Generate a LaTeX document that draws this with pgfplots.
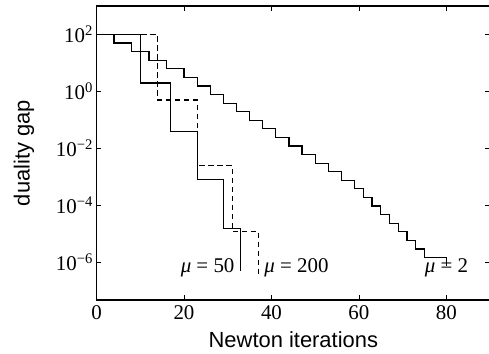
\documentclass[border=0pt]{standalone}
\usepackage{fontspec}
\setmainfont{Liberation Serif}
\setsansfont{Liberation Sans}
\usepackage{pgfplots}
\pgfplotsset{compat=1.18}
\begin{document}
\begin{tikzpicture}
\path[use as bounding box] (-96.5bp,-54bp) rectangle (392.5bp,300bp);
\begin{axis}[
  at={(0,0)}, anchor=south west,
  scale only axis, width=393.7bp, height=294bp,
  ymode=log, xmin=0, xmax=90, ymin=4.8e-8, ymax=1000,
  xtick={0,20,40,60,80},
  ytick={1e-6,1e-4,1e-2,1,1e2},
  yticklabels={10\textsuperscript{−6},10\textsuperscript{−4},10\textsuperscript{−2},10\textsuperscript{0},10\textsuperscript{2}},
  yminorticks=false,
  tick align=inside, major tick length=5bp,
  axis line style={line width=1.2bp},
  every tick/.style={black, line width=0.8bp},
  tick label style={font=\fontsize{21}{25}\selectfont},
  xticklabel style={yshift=-2bp},
  /pgf/number format/assume math mode=true,
  xlabel={Newton iterations}, ylabel={duality gap},
  label style={font=\sffamily\fontsize{22}{26}\selectfont},
  xlabel style={at={(axis description cs:0.5,-0.163)}, anchor=base},
  ylabel style={at={(axis description cs:-0.184,0.5)}, anchor=center},
]
% mu = 2
\addplot[const plot, black, line width=1.2bp] coordinates {
(0,100) (4,50) (8,25) (12,12.5) (16,6.25) (20,3.125) (23,1.5625) (26,0.78125)
(29,0.390625) (32,0.1953125) (35,0.09765625) (38,0.048828125) (41,0.0244140625)
(44,0.01220703125) (47,0.006103515625) (50,0.0030517578125) (53,0.00152587890625)
(56,0.000762939453125) (59,0.0003814697265625) (61,0.00019073486328125)
(63,9.5367431640625e-5) (65,4.76837158203125e-5) (67,2.384185791015625e-5)
(69,1.1920928955078125e-5) (71,5.9604644775390625e-6) (73,2.98023223876953125e-6)
(75,1.490116119384765625e-6) (80,7.450580596923828e-7)
};
% mu = 50
\addplot[const plot, black, line width=1.2bp] coordinates {
(0,100) (10,2) (17,0.04) (23,8e-4) (29,1.6e-5) (33,5e-7)
};
% mu = 200
\addplot[const plot, black, line width=1.2bp, dash pattern=on 5.5bp off 3.5bp] coordinates {
(0,100) (14,0.5) (23,2.5e-3) (31,1.25e-5) (37,3e-7)
};
\node[anchor=base, font=\fontsize{21}{25}\selectfont] at (axis cs:25.4,4.37e-7) {\textit{μ} = 50};
\node[anchor=base, font=\fontsize{21}{25}\selectfont] at (axis cs:45.7,4.37e-7) {\textit{μ} = 200};
\node[anchor=base, font=\fontsize{21}{25}\selectfont] at (axis cs:80.0,4.37e-7) {\textit{μ} = 2};
\end{axis}
\end{tikzpicture}
\end{document}
